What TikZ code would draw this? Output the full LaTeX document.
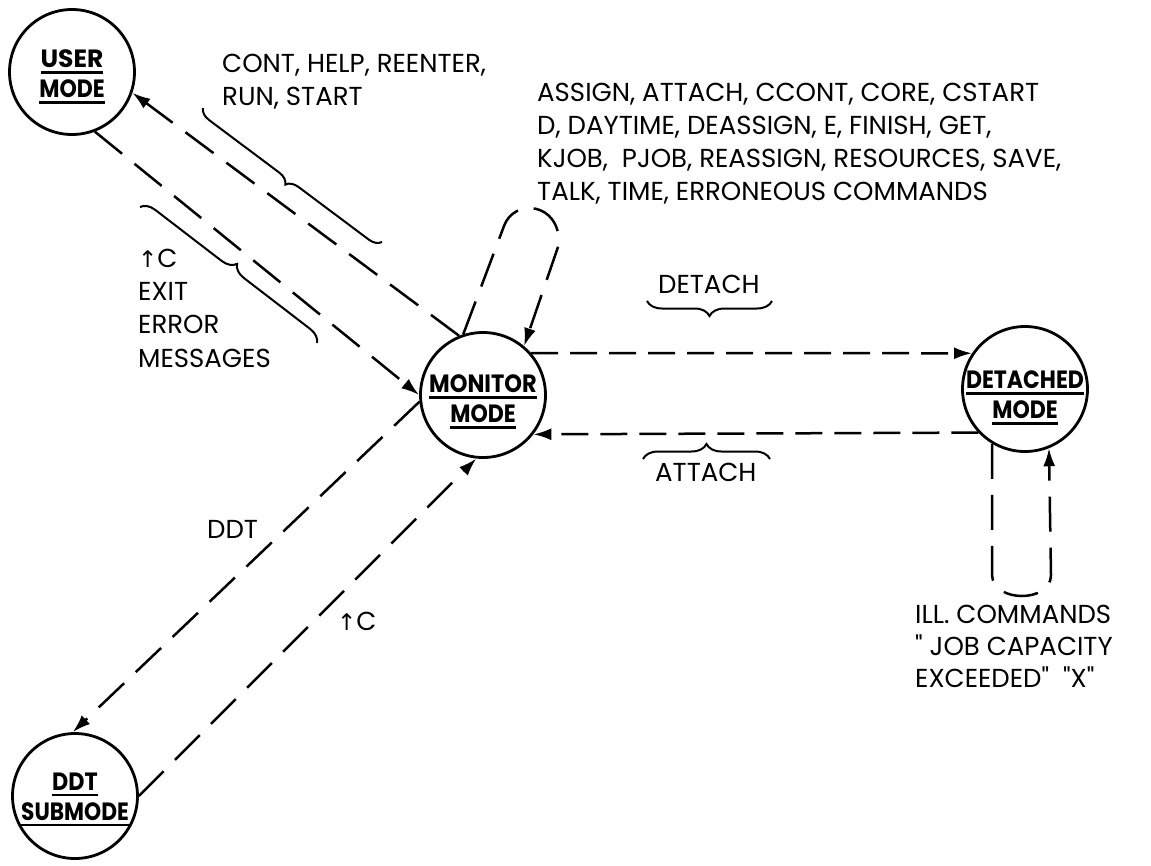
\documentclass[tikz,border=0pt]{standalone}
\usepackage{fontspec}
\setmainfont[Ligatures=TeXOff]{Poppins}
\newfontfamily\symf{DejaVu Sans}
\usetikzlibrary{arrows.meta,decorations.pathreplacing,calc}
\newcommand\ulword[1]{\setbox0\hbox{#1}\rlap{\rule[-6.3pt]{\wd0}{2.6pt}}\box0}
\newcommand\uparr{{\symf\fontsize{23}{23}\selectfont ↑}}
\newcommand\sq[2]{\scalebox{#1}[1]{\ulword{#2}}}
\begin{document}
\begin{tikzpicture}[x=1pt,y=-1pt,
  statecirc/.style={circle, draw, line width=2.8pt, minimum size=125pt, inner sep=0pt},
  lbl/.style={font=\fontsize{25}{30}\selectfont\bfseries, align=center, inner sep=0pt},
  txt/.style={font=\fontsize{26}{33}\selectfont, anchor=base west, inner sep=0pt},
  conn/.style={line width=2.5pt, dash pattern=on 35pt off 16pt},
  hconn/.style={line width=2.5pt, dash pattern=on 27pt off 12pt},
  tip/.style={-{Latex[length=18pt,width=12pt]}},
  brc/.style={line width=2pt, decorate, decoration={brace, amplitude=#1}},
]
\fill[white] (0,0) rectangle (1151,865);
\useasboundingbox (0,0) rectangle (1151,865);

% states
\node[statecirc] (user) at (72,72) {};
\node[statecirc] (monitor) at (483,395) {};
\node[statecirc] (detached) at (1025,389) {};
\node[statecirc] (ddt) at (75,796) {};
\node[lbl] (userlbl) at (72,76.5) {\sq{1}{USER}\\\sq{0.88}{MODE}};
\node[lbl] (monitorlbl) at (483,401.5) {\sq{0.9}{MONITOR}\\\sq{0.88}{MODE}};
\node[lbl] (detachedlbl) at (1025,397.5) {\sq{0.88}{DETACHED}\\\sq{0.88}{MODE}};
\node[lbl] (ddtlbl) at (75,799.5) {\sq{0.89}{DDT}\\\sq{0.87}{SUBMODE}};

% connectors
\draw[conn,tip] (monitor.112) -- (user.-19);
\draw[conn,tip] (user.-69) -- (monitor.180);
\draw[conn,tip] (monitor.186) -- (ddt.92);
\draw[conn,tip] (ddt.0) -- (monitor.264);
\draw[hconn,tip] (monitor.41) -- (detached.146);
\draw[hconn,tip] (detached.223) -- (monitor.-38);
\draw[conn,tip] (monitor.108) -- (504,226) .. controls (514,198) and (560,202) .. (559,244) -- (monitor.50);
\draw[conn,tip] (detached.239) -- (992,575) .. controls (993,603) and (1051,603) .. (1051,575) -- (detached.292);

% braces
\draw[brc=12pt] (382,242) -- (203,108);
\draw[brc=14pt] (140,207) -- (317,343);
\draw[brc=15pt] (772,301) -- (647,301);
\draw[brc=15pt] (643,459) -- (770,459);

% texts
\node[txt] (cont1) at (222,72) {CONT, HELP, REENTER,};
\node[txt] (cont2) at (222,105) {RUN, START};
\node[txt] (as1) at (537,101) {ASSIGN, ATTACH, CCONT, CORE, CSTART};
\node[txt] (as2) at (537,134) {D, DAYTIME, DEASSIGN, E, FINISH, GET,};
\node[txt] (as3) at (537,167) {KJOB,\ \ PJOB, REASSIGN, RESOURCES, SAVE,};
\node[txt] (as4) at (537,200) {TALK, TIME, ERRONEOUS COMMANDS};
\node[txt] (ex1) at (138,267) {\uparr C};
\node[txt] (ex2) at (138,300) {EXIT};
\node[txt] (ex3) at (138,333) {ERROR};
\node[txt] (ex4) at (138,367) {MESSAGES};
\node[txt] (detachtxt) at (658,293) {DETACH};
\node[txt] (attachtxt) at (655,481) {ATTACH};
\node[txt] (ddttxt) at (207,538) {DDT};
\node[txt] (ctrlc) at (337,630) {\uparr C};
\node[txt] (ill1) at (915,623) {ILL. COMMANDS};
\node[txt] (ill2) at (915,655) {" JOB CAPACITY};
\node[txt] (ill3) at (915,687) {EXCEEDED" \ "X"};
\end{tikzpicture}
\end{document}
